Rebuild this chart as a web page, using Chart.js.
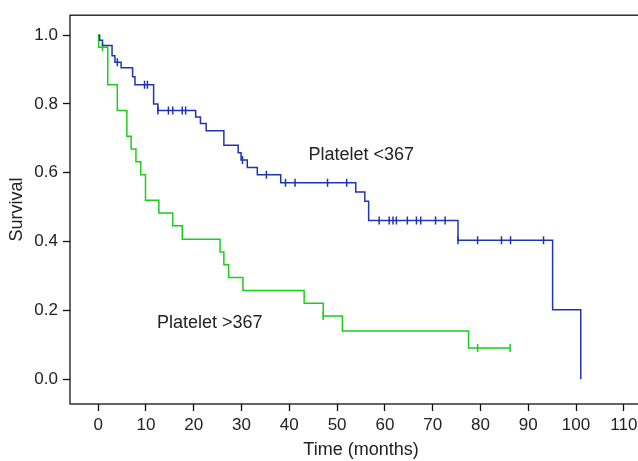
<!DOCTYPE html>
<html>
<head>
<meta charset="utf-8">
<script src="https://cdn.jsdelivr.net/npm/chart.js@4"></script>
<style>
  html, body { margin: 0; padding: 0; background: #fff; }
  #wrap { width: 638px; height: 461px; overflow: hidden; }
  #inner { width: 660px; height: 461px; }
</style>
</head>
<body>
<div id="wrap"><div id="inner"><canvas id="kmChart"></canvas></div></div>
<script>
// Platelet <367 (blue): event times and survival after each step
const lowTimes = [0, 0.3, 0.9, 2.9, 3.5, 4.8, 7.2, 7.7, 11.6, 12.5, 20.4, 21.4, 22.6, 26.3, 29.3, 29.9, 31.2, 33.3, 38.2, 53.9, 55.8, 56.6, 75.3, 95.1, 101];
const lowSurv  = [1.0, 0.985, 0.97, 0.94, 0.921, 0.905, 0.879, 0.856, 0.80, 0.781, 0.762, 0.743, 0.722, 0.68, 0.658, 0.637, 0.615, 0.594, 0.571, 0.544, 0.517, 0.461, 0.404, 0.202, 0];
const lowCensorTimes = [4, 9.7, 10.3, 12.5, 14.7, 15.6, 17.6, 18.3, 30.2, 35.2, 39.2, 41.2, 48, 52, 58.8, 60.9, 61.7, 62.4, 64.7, 66.6, 67.5, 70.6, 72.6, 75.3, 79.4, 84.4, 86.3, 93.2];
const lowCensorSurv  = [0.921, 0.856, 0.856, 0.781, 0.781, 0.781, 0.781, 0.781, 0.637, 0.594, 0.571, 0.571, 0.571, 0.571, 0.461, 0.461, 0.461, 0.461, 0.461, 0.461, 0.461, 0.461, 0.461, 0.404, 0.404, 0.404, 0.404, 0.404];

// Platelet >367 (green)
const highTimes = [0, 0.1, 2, 4, 6, 6.9, 7.9, 8.9, 9.9, 12.7, 15.6, 17.6, 25.5, 26.3, 27.3, 30.3, 43.1, 47.1, 51.1, 77.5, 86.2];
const highSurv  = [1.0, 0.965, 0.856, 0.781, 0.706, 0.669, 0.632, 0.594, 0.52, 0.483, 0.446, 0.407, 0.37, 0.333, 0.296, 0.258, 0.221, 0.184, 0.14, 0.091, 0.091];
const highCensorTimes = [0.9, 47.1, 79.4, 86.2];
const highCensorSurv  = [0.965, 0.184, 0.091, 0.091];

const xTicks = [0, 10, 20, 30, 40, 50, 60, 70, 80, 90, 100, 110];
const yTicks = [0, 0.2, 0.4, 0.6, 0.8, 1.0];

const groupLabels = ['Platelet <367', 'Platelet >367'];
const labelTimes = [44, 12.3];
const labelSurv = [0.652, 0.162];

const blue = '#1f33b5';
const green = '#19cf19';

const toPoints = (xs, ys) => xs.map((x, i) => ({ x: x, y: ys[i] }));

const fontFamily = '"Liberation Sans", Arial, sans-serif';
const tickFont = { family: fontFamily, size: 17 };
const titleFont = { family: fontFamily, size: 18 };

// frame + group labels
const extras = {
  id: 'extras',
  afterDatasetsDraw(chart) {
    const { ctx, chartArea: a, scales } = chart;
    ctx.save();
    ctx.strokeStyle = '#111';
    ctx.lineWidth = 1.3;
    ctx.strokeRect(a.left, a.top, a.right - a.left, a.bottom - a.top);
    ctx.fillStyle = '#222';
    ctx.font = '18px ' + fontFamily;
    ctx.textBaseline = 'middle';
    ctx.textAlign = 'left';
    groupLabels.forEach((txt, i) => {
      ctx.fillText(txt, scales.x.getPixelForValue(labelTimes[i]), scales.y.getPixelForValue(labelSurv[i]));
    });
    ctx.restore();
  }
};

new Chart(document.getElementById('kmChart'), {
  type: 'line',
  data: {
    datasets: [
      {
        data: toPoints(lowTimes, lowSurv),
        borderColor: blue,
        borderWidth: 1.5,
        stepped: true,
        pointRadius: 0,
        fill: false
      },
      {
        data: toPoints(highTimes, highSurv),
        borderColor: green,
        borderWidth: 1.5,
        stepped: true,
        pointRadius: 0,
        fill: false
      },
      {
        type: 'scatter',
        data: toPoints(lowCensorTimes, lowCensorSurv),
        pointStyle: 'line',
        rotation: 90,
        pointRadius: 4,
        borderColor: blue,
        borderWidth: 1.5
      },
      {
        type: 'scatter',
        data: toPoints(highCensorTimes, highCensorSurv),
        pointStyle: 'line',
        rotation: 90,
        pointRadius: 4,
        borderColor: green,
        borderWidth: 1.5
      }
    ]
  },
  options: {
    responsive: true,
    maintainAspectRatio: false,
    animation: false,
    layout: { padding: { top: 12, right: 8, left: 0, bottom: 0 } },
    plugins: {
      legend: { display: false },
      tooltip: { enabled: false }
    },
    scales: {
      x: {
        type: 'linear',
        min: -5.9,
        max: 115.9,
        afterBuildTicks: (scale) => { scale.ticks = xTicks.map(v => ({ value: v })); },
        afterFit: (scale) => { scale.height = 57; },
        grid: { drawOnChartArea: false, tickLength: 7, color: '#111', tickWidth: 1.3 },
        border: { display: false },
        ticks: { color: '#222', font: tickFont, padding: 4, maxRotation: 0 },
        title: { display: true, text: 'Time (months)', color: '#222', font: titleFont, padding: { top: 0, bottom: 0 } }
      },
      y: {
        min: -0.072,
        max: 1.058,
        afterBuildTicks: (scale) => { scale.ticks = yTicks.map(v => ({ value: v })); },
        afterFit: (scale) => { scale.width = 70; },
        grid: { drawOnChartArea: false, tickLength: 7, color: '#111', tickWidth: 1.3 },
        border: { display: false },
        ticks: { color: '#222', font: tickFont, padding: 5, callback: (v) => v.toFixed(1) },
        title: { display: true, text: 'Survival', color: '#222', font: titleFont, padding: { top: 6, bottom: 0 } }
      }
    }
  },
  plugins: [extras]
});
</script>
</body>
</html>
